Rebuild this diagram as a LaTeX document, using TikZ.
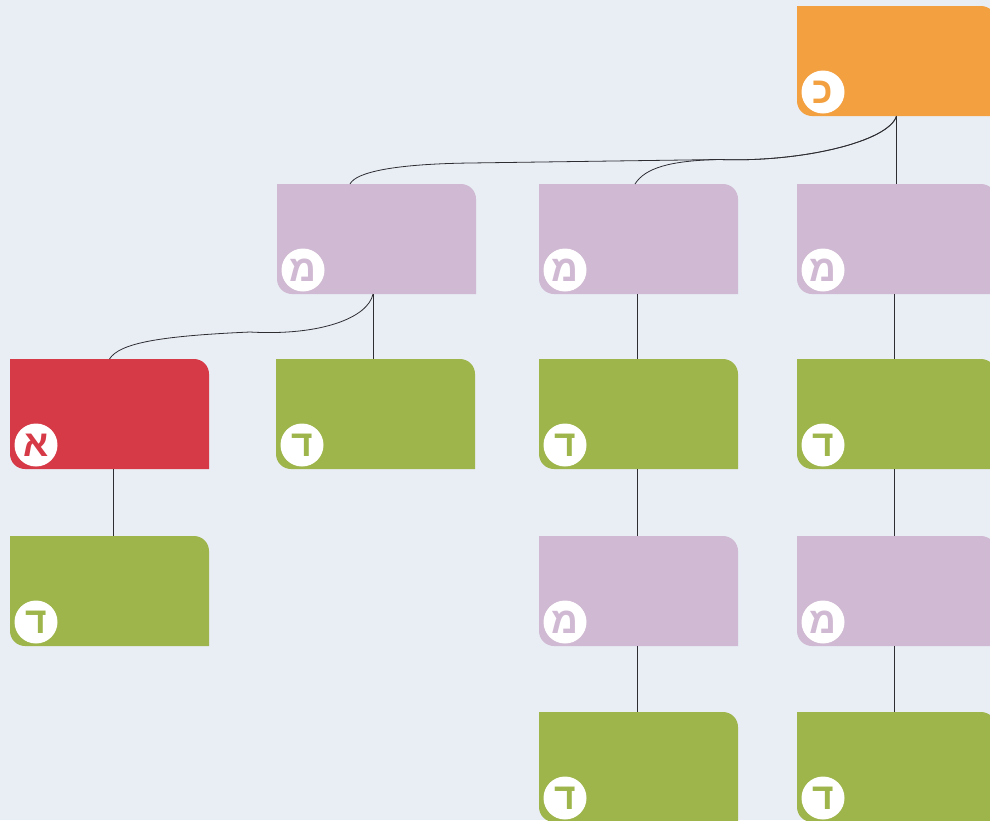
\documentclass[tikz,border=0pt]{standalone}
\usepackage{fontspec}
\newfontfamily\hebfont[Script=Hebrew]{Liberation Sans}
\TeXXeTstate=1
\definecolor{bg}{RGB}{233,238,245}
\definecolor{corange}{RGB}{243,160,64}
\definecolor{cpurple}{RGB}{208,185,210}
\definecolor{cgreen}{RGB}{157,181,75}
\definecolor{cred}{RGB}{214,58,71}
\definecolor{linec}{RGB}{45,45,50}
\tikzset{
  boxnode/.style={rectangle, minimum width=199pt, minimum height=110pt, inner sep=0pt, outer sep=0pt, anchor=north west},
  badge/.style={circle, fill=white, minimum size=43pt, inner sep=0pt, font=\hebfont\bfseries\fontsize{37}{37}\selectfont},
  link/.style={draw=linec, line width=0.8pt},
}
\newcommand\mmbox[5]{%
  \node[boxnode] (#1) at (#2,-#3) {};
  \fill[#4] (#1.north west) -- ([xshift=-15pt]#1.north east) arc[start angle=90,end angle=0,radius=15pt] -- (#1.south east) -- ([xshift=15pt]#1.south west) arc[start angle=270,end angle=180,radius=15pt] -- cycle;
  \node[badge, text=#4] (#1-b) at ([shift={(26pt,24pt)}]#1.south west) {\beginR #5\endR};
}
\begin{document}
\begin{tikzpicture}[x=1pt,y=1pt]
\useasboundingbox (0,0) rectangle (990,-820);
\clip (0,0) rectangle (990,-820);
\fill[bg] (0,0) rectangle (990,-820);
% connectors
\coordinate (j1) at (720,-159.5);
\coordinate (j2) at (470,-163);
\coordinate (j3) at (250,-332);
\mmbox{root}{797}{6}{corange}{כ}
\mmbox{m2}{277}{184}{cpurple}{מ}
\mmbox{m3}{539}{184}{cpurple}{מ}
\mmbox{m4}{797}{184}{cpurple}{מ}
\mmbox{a1}{10}{359}{cred}{א}
\mmbox{d2}{276}{359}{cgreen}{ד}
\mmbox{d3}{539}{359}{cgreen}{ד}
\mmbox{d4}{797}{359}{cgreen}{ד}
\mmbox{d1}{10}{536}{cgreen}{ד}
\mmbox{m3b}{539}{536}{cpurple}{מ}
\mmbox{m4b}{797}{536}{cpurple}{מ}
\mmbox{d3b}{539}{712}{cgreen}{ד}
\mmbox{d4b}{797}{712}{cgreen}{ד}
% edges
\draw[link] (root.south) -- (m4.north);
\draw[link] (root.south) .. controls +(-8,-26) and +(80,-3) .. (j1) -- (j2) .. controls +(-75,-1) and +(6,12) .. ([xshift=-26.5pt]m2.north);
\draw[link] (root.south) .. controls +(-8,-26) and +(80,-3) .. (j1) .. controls +(-50,-1) and +(10,16) .. ([xshift=-3.5pt]m3.north);
\draw[link] ([xshift=-3.5pt]m2.south) -- ([xshift=-3.5pt]m2.south |- d2.north);
\draw[link] ([xshift=-3.5pt]m2.south) .. controls +(-5,-24) and +(70,-4) .. (j3) .. controls +(-90,-4) and +(10,16) .. (a1.north);
\draw[link] ([xshift=3.5pt]a1.south) -- ([xshift=3.5pt]a1.south |- d1.north);
\draw[link] ([xshift=-1.5pt]m3.south) -- ([xshift=-1.5pt]m3.south |- d3.north);
\draw[link] ([xshift=-1.5pt]d3.south) -- ([xshift=-1.5pt]d3.south |- m3b.north);
\draw[link] ([xshift=-1.5pt]m3b.south) -- ([xshift=-1.5pt]m3b.south |- d3b.north);
\draw[link] ([xshift=-2.5pt]m4.south) -- ([xshift=-2.5pt]m4.south |- d4.north);
\draw[link] ([xshift=-2.5pt]d4.south) -- ([xshift=-2.5pt]d4.south |- m4b.north);
\draw[link] ([xshift=-2.5pt]m4b.south) -- ([xshift=-2.5pt]m4b.south |- d4b.north);
\end{tikzpicture}
\end{document}
